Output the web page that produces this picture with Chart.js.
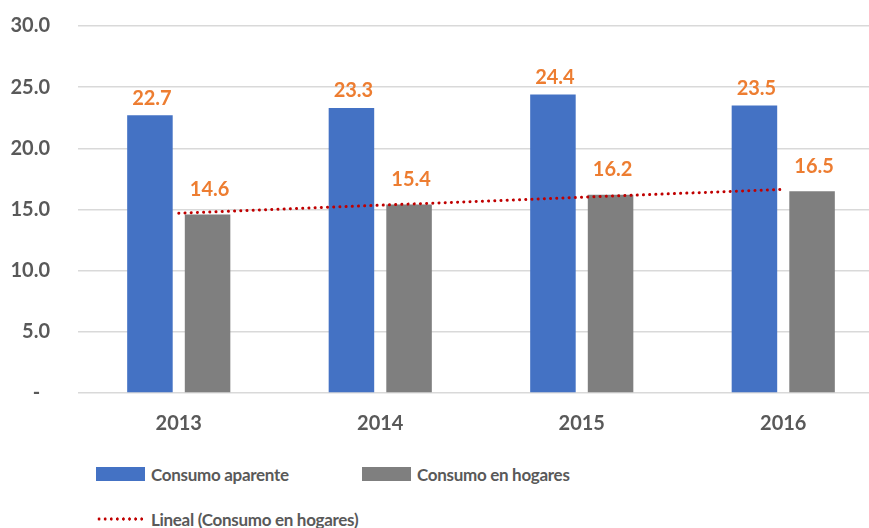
<!DOCTYPE html>
<html>
<head>
<meta charset="utf-8">
<script src="https://cdn.jsdelivr.net/npm/chart.js@4.4.1/dist/chart.umd.min.js"></script>
<style>
  html, body { margin: 0; padding: 0; background: #fff; overflow: hidden; }
  #wrap { position: relative; width: 869px; height: 528px; overflow: hidden; }
  #chart { position: absolute; left: 0; top: 0; }
  .leg { position: absolute; display: flex; align-items: center; font-family: Lato, sans-serif;
         font-weight: bold; font-size: 17px; letter-spacing: -0.3px; color: #595959; white-space: nowrap; }
  .leg .sw { width: 49px; height: 14px; margin-right: 6px; }
  .leg .dots { width: 49px; height: 4px; margin-right: 6px;
               background-image: radial-gradient(circle, #C00000 1.4px, transparent 1.8px);
               background-size: 6.1px 4px; }
</style>
</head>
<body>
<div id="wrap">
  <canvas id="chart" width="884" height="450"></canvas>
  <div id="legend"></div>
</div>
<script>
// data
var years = ['2013', '2014', '2015', '2016'];
var consumoAparente = [22.7, 23.3, 24.4, 23.5];
var consumoHogares = [14.6, 15.4, 16.2, 16.5];
var yTicks = [0, 5, 10, 15, 20, 25, 30];

// linear trend (Excel "Lineal") of consumo en hogares
function linearTrend(vals) {
  var n = vals.length, mx = (n - 1) / 2, my = 0;
  vals.forEach(function(v) { my += v; });
  my /= n;
  var num = 0, den = 0;
  vals.forEach(function(v, i) { num += (i - mx) * (v - my); den += (i - mx) * (i - mx); });
  var b = num / den, a = my - b * mx;
  return vals.map(function(v, i) { return a + b * i; });
}
var trendHogares = linearTrend(consumoHogares);

var labelOffsets = [17, 25];

var barLabels = {
  id: 'barLabels',
  afterDatasetsDraw: function(chart) {
    var ctx = chart.ctx;
    ctx.save();
    ctx.font = 'bold 20px Lato, sans-serif';
    ctx.fillStyle = '#ED7D31';
    ctx.textAlign = 'center';
    ctx.textBaseline = 'middle';
    chart.data.datasets.forEach(function(ds, di) {
      if (ds.type === 'line') return;
      chart.getDatasetMeta(di).data.forEach(function(bar, i) {
        ctx.fillText(ds.data[i].toFixed(1), bar.x + 2, bar.y - labelOffsets[di]);
      });
    });
    ctx.restore();
  }
};

var ctx = document.getElementById('chart').getContext('2d');
var chart = new Chart(ctx, {
  type: 'bar',
  data: {
    labels: years,
    datasets: [{
      label: 'Consumo aparente',
      data: consumoAparente,
      backgroundColor: '#4472C4',
      categoryPercentage: 0.572,
      barPercentage: 0.79,
      order: 2
    }, {
      label: 'Consumo en hogares',
      data: consumoHogares,
      backgroundColor: '#7F7F7F',
      categoryPercentage: 0.572,
      barPercentage: 0.79,
      order: 2
    }, {
      type: 'line',
      label: 'Lineal (Consumo en hogares)',
      data: trendHogares,
      borderColor: '#C00000',
      borderWidth: 3,
      borderDash: [0.1, 6.1],
      borderCapStyle: 'round',
      pointRadius: 0,
      fill: false,
      order: 1
    }]
  },
  options: {
    responsive: false,
    animation: false,
    layout: { padding: { left: 10, top: 26, right: 0, bottom: 0 } },
    plugins: { legend: { display: false }, tooltip: { enabled: false } },
    scales: {
      x: {
        grid: { display: false, drawTicks: false },
        border: { display: false },
        ticks: { color: '#595959', font: { family: 'Lato', weight: 'bold', size: 20 }, padding: 19 },
        afterFit: function(s) { s.height = 57; }
      },
      y: {
        min: 0, max: 30,
        afterBuildTicks: function(s) { s.ticks = yTicks.map(function(v) { return { value: v }; }); },
        grid: { color: '#D9D9D9', lineWidth: 1.5, drawTicks: false },
        border: { display: false },
        ticks: {
          color: '#595959', font: { family: 'Lato', weight: 'bold', size: 20 }, padding: 28,
          callback: function(v) { return v === 0 ? '-  ' : v.toFixed(1); }
        },
        afterFit: function(s) { s.width = 68; s.paddingTop = 0; s.paddingBottom = 0; }
      }
    }
  },
  plugins: [barLabels]
});

// legend built from the datasets
var legend = document.getElementById('legend');
var spots = [[96, 474], [362, 474], [96, 519]];
chart.data.datasets.forEach(function(ds, i) {
  var item = document.createElement('div');
  item.className = 'leg';
  item.style.left = spots[i][0] + 'px';
  item.style.top = (spots[i][1] - 12) + 'px';
  item.style.height = '24px';
  var sw = document.createElement('div');
  if (ds.type === 'line') {
    sw.className = 'dots';
  } else {
    sw.className = 'sw';
    sw.style.background = ds.backgroundColor;
  }
  item.appendChild(sw);
  var t = document.createElement('span');
  t.textContent = ds.label;
  item.appendChild(t);
  legend.appendChild(item);
});
</script>
</body>
</html>
